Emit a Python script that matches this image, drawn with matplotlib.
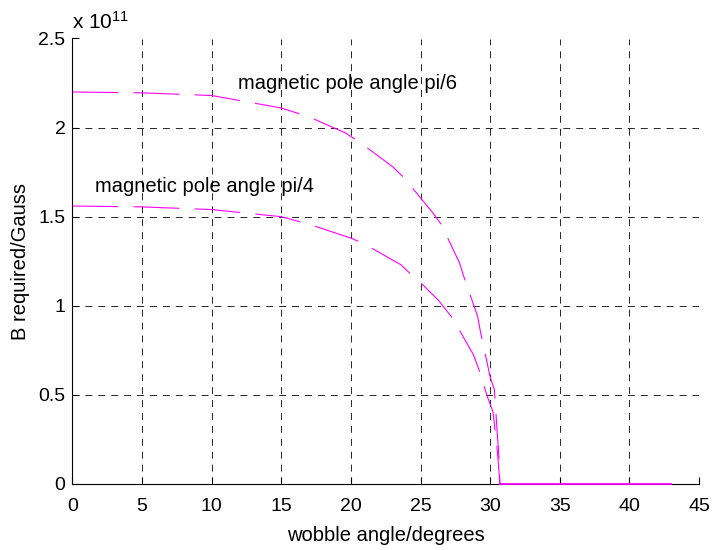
import matplotlib
matplotlib.use("Agg")
import matplotlib.pyplot as plt
from matplotlib.ticker import FuncFormatter

plt.rcParams['font.family'] = ['Liberation Sans', 'DejaVu Sans']
plt.rcParams['mathtext.fontset'] = 'custom'
plt.rcParams['mathtext.rm'] = 'Liberation Sans'
plt.rcParams['lines.scale_dashes'] = False

# wobble angle (degrees) and B required (units of 1e11 Gauss)
angle_pi6 = [0, 5, 10, 15, 17, 19.6, 20.6, 23.0, 23.8, 25.9, 26.5, 27.8, 28.1, 28.7,
             29.1, 29.3, 30.0, 30.3, 30.4, 30.5, 30.6, 30.7]
b_pi6 = [2.20, 2.195, 2.18, 2.11, 2.06, 1.97, 1.92, 1.78, 1.72, 1.52, 1.455, 1.24, 1.165, 1.03,
         0.94, 0.855, 0.60, 0.53, 0.415, 0.29, 0.19, 0.0]

angle_pi4 = [0, 5, 10, 15, 17.1, 20, 20.9, 23.6, 24.4, 25, 26.3, 27.3, 28.8, 29.2,
             29.8, 30.2, 30.5, 30.7]
b_pi4 = [1.56, 1.555, 1.54, 1.50, 1.455, 1.38, 1.35, 1.23, 1.17, 1.13, 1.03, 0.93, 0.725, 0.64,
         0.49, 0.405, 0.2, 0.0]

angle_zero = [30.7, 43.0]
b_zero = [0.0, 0.0]

fig = plt.figure(figsize=(7.13, 5.5), dpi=100)
ax = fig.add_axes([0.1015, 0.12, 0.879, 0.81])

col = '#ff00ff'
ax.plot(angle_pi6, b_pi6, color=col, lw=0.8, dashes=(33, 11))
ax.plot(angle_pi4, b_pi4, color=col, lw=0.8, dashes=(33, 11))
ax.plot(angle_zero, b_zero, color=col, lw=1.3, zorder=5, clip_on=False)

ax.text(11.9, 2.25, 'magnetic pole angle pi/6', fontsize=14.5, va='center')
ax.text(1.65, 1.67, 'magnetic pole angle pi/4', fontsize=14.5, va='center')

ax.set_xlim(0, 45)
ax.set_ylim(0, 2.5)
ax.set_xticks(range(0, 46, 5))
ax.set_yticks([0, 0.5, 1, 1.5, 2, 2.5])
ax.yaxis.set_major_formatter(FuncFormatter(lambda v, p: '%g' % v))
ax.tick_params(direction='in', length=5, labelsize=14)
ax.tick_params(axis='x', pad=10)
ax.tick_params(axis='y', pad=5)
ax.spines['top'].set_visible(False)
ax.spines['right'].set_visible(False)
ax.grid(True, color='0.15', lw=0.7, dashes=(5, 4.3))

ax.set_xlabel('wobble angle/degrees', fontsize=14.5, labelpad=8)
ax.set_ylabel('B required/Gauss', fontsize=14.5, labelpad=6)
ax.text(0.0, 1.012, r'x $\mathregular{10^{11}}$', transform=ax.transAxes, fontsize=15, va='bottom')

fig.savefig('out.png', dpi=100)
